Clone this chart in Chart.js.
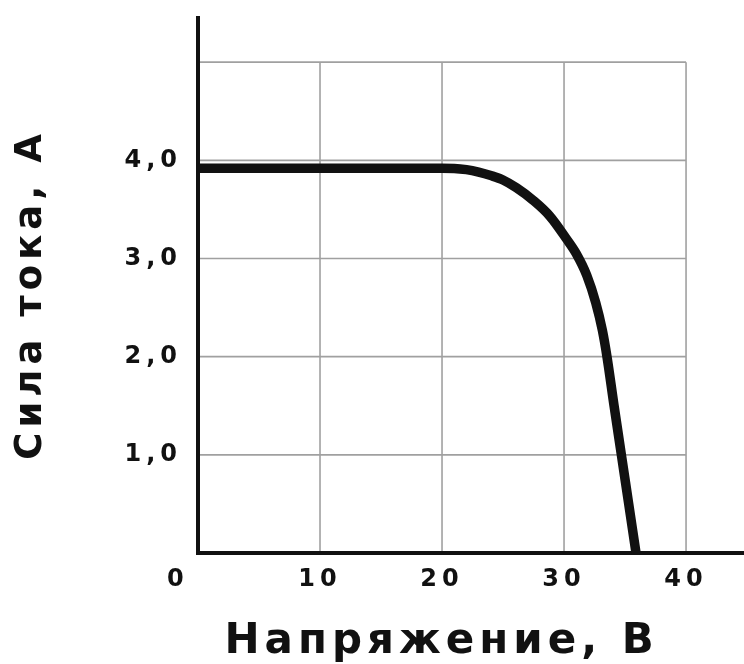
<!DOCTYPE html>
<html>
<head>
<meta charset="utf-8">
<script src="https://cdn.jsdelivr.net/npm/chart.js@4.4.1/dist/chart.umd.min.js"></script>
<style>
html,body{margin:0;padding:0;background:#fff;}
canvas{display:block;}
</style>
</head>
<body>
<canvas id="c" width="744" height="664"></canvas>
<script>
// ---- data ----
const voltage = [0, 5, 10, 15, 20, 21, 22, 23, 24, 25, 26.1, 27.5, 28.85, 30.2, 31.0, 31.86, 32.6, 33.14, 33.52, 34.1, 34.7, 35.3, 35.9];
const current = [3.92, 3.92, 3.92, 3.92, 3.92, 3.918, 3.905, 3.88, 3.845, 3.8, 3.72, 3.59, 3.43, 3.2, 3.05, 2.83, 2.55, 2.27, 2.0, 1.5, 1.0, 0.5, 0];
const xTickValues = [0, 10, 20, 30, 40];
const xTickLabels = ['0', '10', '20', '30', '40'];
const yTickValues = [1, 2, 3, 4];
const yTickLabels = ['1,0', '2,0', '3,0', '4,0'];
const gridX = [10, 20, 30, 40];
const gridY = [1, 2, 3, 4, 5];
const xTitle = 'Напряжение, В';
const yTitle = 'Сила тока, А';

const FONT = '"DejaVu Sans", "Noto Sans", sans-serif';
const INK = '#111';
const SPACING = '5px';

const spacingPlugin = {
  id: 'spacing',
  beforeUpdate(chart) { chart.ctx.letterSpacing = SPACING; },
  beforeLayout(chart) { chart.ctx.letterSpacing = SPACING; },
  beforeDraw(chart) { chart.ctx.letterSpacing = SPACING; }
};

const gridPlugin = {
  id: 'customGrid',
  beforeDraw(chart) {
    const { ctx, scales: { x, y } } = chart;
    const xs = x.getPixelForValue(0), xe = x.getPixelForValue(40);
    const ys = y.getPixelForValue(0), ye = y.getPixelForValue(5);
    ctx.save();
    ctx.strokeStyle = '#a0a0a0';
    ctx.lineWidth = 1.6;
    gridX.forEach(v => {
      const px = x.getPixelForValue(v);
      ctx.beginPath(); ctx.moveTo(px, ys); ctx.lineTo(px, ye); ctx.stroke();
    });
    gridY.forEach(v => {
      const py = y.getPixelForValue(v);
      ctx.beginPath(); ctx.moveTo(xs, py); ctx.lineTo(xe, py); ctx.stroke();
    });
    ctx.restore();
  }
};

const points = voltage.map((v, i) => ({ x: v, y: current[i] }));
const NB = '\u00a0';

new Chart(document.getElementById('c'), {
  type: 'line',
  data: {
    datasets: [{
      data: points,
      borderColor: INK,
      borderWidth: 9.5,
      pointRadius: 0,
      fill: false,
      cubicInterpolationMode: 'monotone',
      borderCapStyle: 'butt',
      borderJoinStyle: 'round'
    }]
  },
  options: {
    responsive: false,
    animation: false,
    events: [],
    layout: { padding: { top: 18, right: 0, left: 0, bottom: 0 } },
    plugins: { legend: { display: false }, tooltip: { enabled: false } },
    scales: {
      x: {
        type: 'linear',
        min: 0,
        max: 44.75,
        afterBuildTicks(s) { s.ticks = xTickValues.map(v => ({ value: v })); },
        afterFit(s) { s.height = 111; s.paddingLeft = 0; s.paddingRight = 0; },
        ticks: {
          autoSkip: false,
          maxRotation: 0,
          padding: 12,
          color: INK,
          font: { family: FONT, weight: 'bold', size: 24 },
          callback(value) {
            const i = xTickValues.indexOf(value);
            const t = i >= 0 ? xTickLabels[i] : '';
            return value === 0 ? t + NB + NB + NB : t;
          }
        },
        grid: { display: false, drawTicks: false },
        border: { display: true, color: INK, width: 4 },
        title: {
          display: true,
          text: xTitle + NB + NB + NB,
          color: INK,
          font: { family: FONT, weight: 'bold', size: 42, lineHeight: 1 },
          padding: { top: 20, bottom: 1 }
        }
      },
      y: {
        type: 'linear',
        min: 0,
        max: 5.45,
        afterBuildTicks(s) { s.ticks = yTickValues.map(v => ({ value: v })); },
        afterFit(s) { s.width = 198; s.paddingTop = 0; s.paddingBottom = 0; },
        ticks: {
          autoSkip: false,
          padding: 16,
          color: INK,
          font: { family: FONT, weight: 'bold', size: 24 },
          callback(value) {
            const i = yTickValues.indexOf(value);
            return i >= 0 ? yTickLabels[i] : '';
          }
        },
        grid: { display: false, drawTicks: false },
        border: { display: true, color: INK, width: 4 },
        title: {
          display: true,
          text: yTitle + NB,
          color: INK,
          font: { family: FONT, weight: 'bold', size: 37, lineHeight: 1 },
          padding: { top: 13, bottom: 0 }
        }
      }
    }
  },
  plugins: [spacingPlugin, gridPlugin]
});
</script>
</body>
</html>
